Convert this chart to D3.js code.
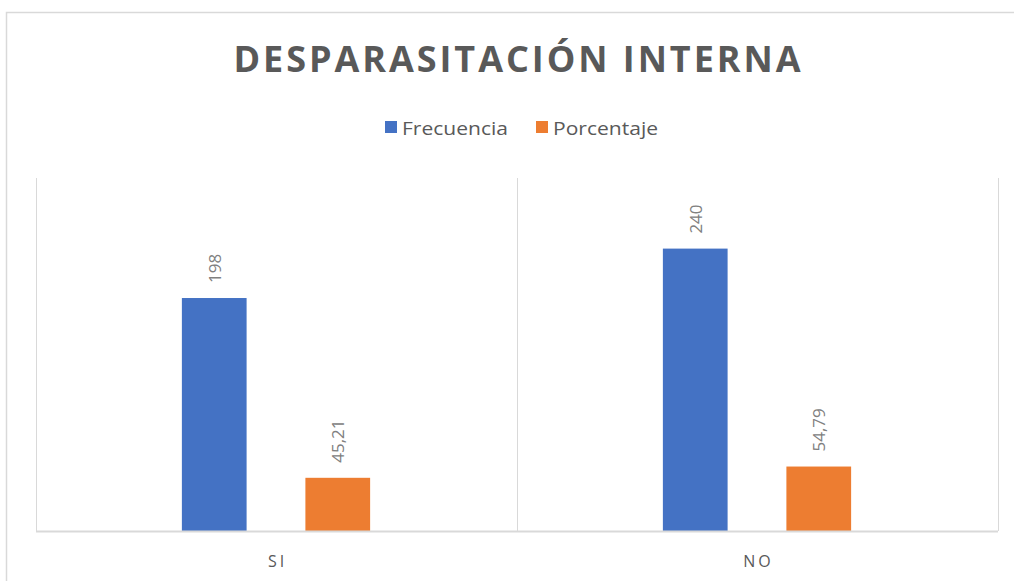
<!DOCTYPE html>
<html>
<head>
<meta charset="utf-8">
<script src="https://cdn.jsdelivr.net/npm/d3@7"></script>
<style>
  html, body { margin: 0; padding: 0; background: #fff; }
  svg { display: block; }
</style>
</head>
<body>
<script>
const categories = ["SI", "NO"];
const seriesNames = ["Frecuencia", "Porcentaje"];
const frecuencia = [198, 240];
const porcentaje = [45.21, 54.79];
const frecuenciaLabels = ["198", "240"];
const porcentajeLabels = ["45,21", "54,79"];
const colors = ["#4472C4", "#ED7D31"];

const W = 1014, H = 581;
const svg = d3.select("body").append("svg").attr("width", W).attr("height", H);
const font = "'Open Sans', 'DejaVu Sans', sans-serif";

// outer frame
svg.append("rect").attr("x", 6.5).attr("y", 12.5).attr("width", W + 20).attr("height", H + 20)
  .attr("fill", "none").attr("stroke", "#d9d9d9").attr("stroke-width", 1.5);

const plot = { left: 35.5, right: 997.5, top: 178, bottom: 531 };

const x0 = d3.scaleBand().domain(categories).range([plot.left, plot.right]).paddingInner(0).paddingOuter(0);
const x1 = d3.scaleBand().domain(seriesNames).range([0, x0.bandwidth()]).paddingInner(0.476).paddingOuter(1.185);
const y = d3.scaleLinear().domain([0, 300]).range([plot.bottom, plot.top]);

// vertical gridlines at category boundaries
const bounds = [plot.left, ...categories.slice(1).map(c => x0(c)), plot.right];
svg.append("g").selectAll("line").data(bounds).join("line")
  .attr("x1", d => Math.round(d) + 0.5).attr("x2", d => Math.round(d) + 0.5)
  .attr("y1", plot.top).attr("y2", plot.bottom)
  .attr("stroke", "#d9d9d9").attr("stroke-width", 1);

// bars
const data = categories.map((c, i) => ({
  cat: c,
  vals: [
    { s: seriesNames[0], v: frecuencia[i], label: frecuenciaLabels[i], color: colors[0] },
    { s: seriesNames[1], v: porcentaje[i], label: porcentajeLabels[i], color: colors[1] }
  ]
}));

const groups = svg.append("g").selectAll("g").data(data).join("g")
  .attr("transform", d => `translate(${x0(d.cat)},0)`);

groups.selectAll("rect").data(d => d.vals).join("rect")
  .attr("x", d => x1(d.s)).attr("width", x1.bandwidth())
  .attr("y", d => y(d.v)).attr("height", d => y(0) - y(d.v))
  .attr("fill", d => d.color);

groups.selectAll("text").data(d => d.vals).join("text")
  .attr("transform", d => `translate(${x1(d.s) + x1.bandwidth() / 2 + 6.5},${y(d.v) - 15}) rotate(-90)`)
  .attr("text-anchor", "start")
  .attr("font-family", font).attr("font-size", 17).attr("fill", "#808080")
  .text(d => d.label);

// baseline axis
const xAxis = d3.axisBottom(x0).tickSize(0).tickPadding(0);
const gx = svg.append("g").attr("transform", `translate(0,${plot.bottom})`).call(xAxis);
gx.select(".domain").attr("stroke", "#d9d9d9").attr("stroke-width", 2);
gx.selectAll("text").attr("font-family", font).attr("font-size", 16).attr("fill", "#595959")
  .attr("letter-spacing", "3px").attr("dy", 0).attr("y", 36).attr("dx", "1.5px");

// title
svg.append("text").attr("x", 517).attr("y", 72).attr("text-anchor", "middle")
  .attr("font-family", font).attr("font-weight", "bold").attr("font-size", 36)
  .attr("fill", "#595959").attr("textLength", 567).attr("lengthAdjust", "spacing")
  .text("DESPARASITACIÓN INTERNA");

// legend
const legendItems = [
  { name: seriesNames[0], color: colors[0], x: 385, tw: 106 },
  { name: seriesNames[1], color: colors[1], x: 536, tw: 105 }
];
const lg = svg.append("g").selectAll("g").data(legendItems).join("g")
  .attr("transform", d => `translate(${d.x},0)`);
lg.append("rect").attr("x", 0).attr("y", 121).attr("width", 12).attr("height", 12).attr("fill", d => d.color);
lg.append("text").attr("x", 17).attr("y", 134.5)
  .attr("font-family", font).attr("font-size", 19).attr("fill", "#595959")
  .attr("textLength", d => d.tw).attr("lengthAdjust", "spacingAndGlyphs")
  .text(d => d.name);
</script>
</body>
</html>
